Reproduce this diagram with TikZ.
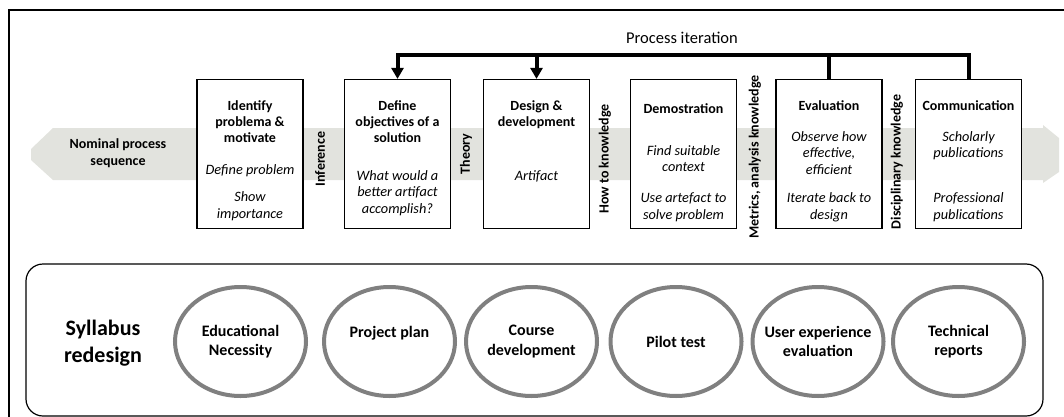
\documentclass[tikz,border=0pt]{standalone}
\usepackage{fontspec}
\setmainfont{Carlito}
\usepackage{xcolor}
\usepackage{tikz}
\usetikzlibrary{shapes.geometric,arrows.meta}
\definecolor{bandgray}{RGB}{226,227,222}
\definecolor{ringgray}{RGB}{128,128,128}

\begin{document}
\begin{tikzpicture}[x=1pt,y=-1pt]
          \tikzstyle{stagebox}=[draw, fill=white, line width=1.2pt, minimum width=106pt, minimum height=149pt, inner sep=0pt]
          \tikzstyle{stagetitle}=[anchor=north, align=center, inner sep=0pt, font=\bfseries\fontsize{14}{16.3}\selectfont]
          \tikzstyle{stagenote}=[anchor=north, align=center, inner sep=0pt, font=\itshape\fontsize{14.3}{16.8}\selectfont]
          \tikzstyle{knowledge}=[rotate=90, inner sep=0pt, font=\bfseries\fontsize{14}{16}\selectfont]
          \tikzstyle{phase}=[ellipse, draw=ringgray, line width=4pt, minimum width=131pt, minimum height=109pt, inner sep=0pt]
          \tikzstyle{phasetext}=[align=center, inner sep=0pt, font=\bfseries\fontsize{16}{19.5}\selectfont]
          \tikzstyle{iteration}=[line width=4pt]

          \useasboundingbox (0,0) rectangle (1064,417);
          \draw[line width=1.2pt] (9,10) rectangle (1090,440);

          % nominal sequence band
          \fill[bandgray] (53,128) -- (1043,128) -- (1043,125) -- (1059,138) -- (1059,172)
            -- (1043,183) -- (1043,180) -- (53,180) -- (31,160) -- (31,149) -- cycle;
          \node[align=center, font=\bfseries\fontsize{14}{17}\selectfont] (nominal) at (118,153) {Nominal process\\sequence};

          % stages
          \node[stagebox] (b1) at (250,154) {};
          \node[stagebox] (b2) at (397.5,154) {};
          \node[stagebox] (b3) at (536.5,154) {};
          \node[stagebox] (b4) at (683.5,154) {};
          \node[stagebox] (b5) at (829,154) {};
          \node[stagebox] (b6) at (968.5,154) {};

          \node[stagetitle] (h1) at (250,100) {Identify\\problema \&\\motivate};
          \node[stagenote] (n1) at (250,164) {Define problem\\[10.7pt]Show\\importance};
          \node[stagetitle] (h2) at (397.5,100) {Define\\objectives of a\\solution};
          \node[stagenote] (n2) at (397.5,170) {What would a\\better artifact\\accomplish?};
          \node[stagetitle] (h3) at (536.5,100) {Design \&\\development};
          \node[stagenote] (n3) at (536.5,170) {Artifact};
          \node[stagetitle] (h4) at (683.5,103) {Demostration};
          \node[stagenote] (n4) at (683.5,145) {Find suitable\\context\\[14.2pt]Use artefact to\\solve problem};
          \node[stagetitle] (h5) at (829,100) {Evaluation};
          \node[stagenote] (n5) at (829,131) {Observe how\\effective,\\efficient\\[11.2pt]Iterate back to\\design};
          \node[stagetitle] (h6) at (968.5,100) {Communication};
          \node[stagenote] (n6) at (968.5,131) {Scholarly\\publications\\[28.2pt]Professional\\publications};

          % knowledge between stages
          \node[knowledge] (k1) at (320,159) {Inference};
          \node[knowledge] (k2) at (466,154) {Theory};
          \node[knowledge] (k3) at (605,159) {How to knowledge};
          \node[knowledge] (k4) at (755,157) {Metrics, analysis knowledge};
          \node[knowledge] (k5) at (897,162) {Disciplinary knowledge};

          % iteration loop
          \coordinate (loop) at (0,55);
          \node[font=\fontsize{16.5}{20}\selectfont] (iter) at (682,38) {Process iteration};
          \draw[iteration, -{Triangle[length=11pt,width=12pt]}] (b6.north) |- (loop -| b2.north) -- (b2.north);
          \draw[iteration, -{Triangle[length=11pt,width=12pt]}] (loop -| b3.north) -- (b3.north);
          \draw[iteration] (b5.north) -- (loop -| b5.north);

          % syllabus redesign
          \draw[line width=1.2pt, rounded corners=17pt] (26,264) rectangle (1043,416);
          \node[align=center, font=\bfseries\fontsize{22}{27}\selectfont] (syllabus) at (103,343) {Syllabus\\redesign};
          \node[phase, label={[phasetext]center:Educational\\Necessity}] (e1) at (240.5,341.5) {};
          \node[phase, label={[phasetext, yshift=8pt]center:Project plan}] (e2) at (389.5,341.5) {};
          \node[phase, label={[phasetext]center:Course\\development}] (e3) at (531.5,341.5) {};
          \node[phase, label={[phasetext]center:Pilot test}] (e4) at (676,341.5) {};
          \node[phase, label={[phasetext]center:User experience\\evaluation}] (e5) at (818,341.5) {};
          \node[phase, label={[phasetext]center:Technical\\reports}] (e6) at (958.5,341.5) {};
        \end{tikzpicture}
\end{document}
